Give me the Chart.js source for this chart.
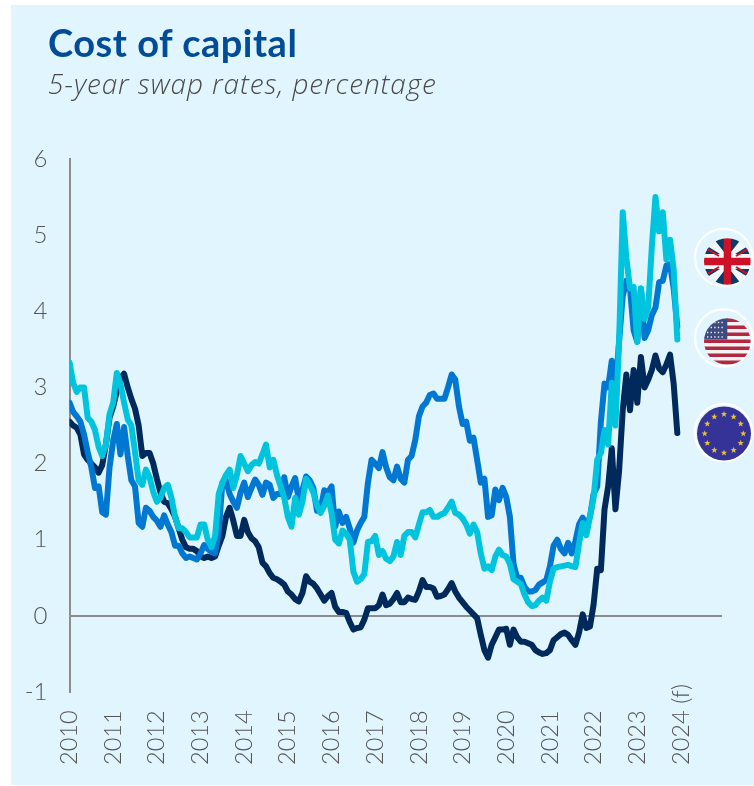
<!DOCTYPE html>
<html><head><meta charset="utf-8">
<style>
html,body{margin:0;padding:0;background:#fff;overflow:hidden}
#wrap{position:relative;width:754px;height:786px;background:#fff;overflow:hidden}
#panel{position:absolute;left:11px;top:5px;width:743px;height:780px;background:#E1F5FE}
#c{position:absolute;left:0;top:0}
#t{position:absolute;left:48px;top:19px;font:700 38px Lato,sans-serif;color:#004C99;letter-spacing:.5px}
#s{position:absolute;left:48px;top:64px;font:italic 300 28px "Open Sans",sans-serif;color:#4a4a4a;letter-spacing:.9px}
svg{position:absolute;left:0;top:0}
</style></head><body>
<div id="wrap"><div id="panel"></div>
<canvas id="c" width="754" height="786"></canvas>
<div id="t">Cost of capital</div>
<div id="s">5-year swap rates, percentage</div>
<svg width="754" height="786" viewBox="0 0 754 786">
<defs>
<clipPath id="ukc"><circle cx="727.3" cy="261.5" r="23.3"/></clipPath>
<clipPath id="usc"><circle cx="727.3" cy="341.5" r="23.3"/></clipPath>
</defs>
<circle cx="723.7" cy="257.5" r="28.7" fill="none" stroke="#fff" stroke-width="2.2"/>
<circle cx="723.7" cy="338" r="28.7" fill="none" stroke="#fff" stroke-width="2.2"/>
<circle cx="723.5" cy="432.5" r="28.7" fill="none" stroke="#fff" stroke-width="2.2"/>
<g clip-path="url(#ukc)">
<rect x="700" y="235" width="55" height="55" fill="#F2F7FA"/>
<path d="M713 238 L724 238 L724 252 Z M731 238 L742 238 L731 252 Z M704 244 L720 254 L704 254 Z M751 244 L735 254 L751 254 Z M704 269 L720 269 L704 279 Z M751 269 L735 269 L751 279 Z M724 271 L724 285 L713 285 Z M731 271 L742 285 L731 285 Z" fill="#0B3A66"/>
<path d="M704 247 L719 256 M751 247 L736 256 M704 276 L719 267 M751 276 L736 267" stroke="#CE1126" stroke-width="2"/>
<rect x="723.7" y="238" width="7.4" height="47" fill="#CE1126"/>
<rect x="704" y="257.8" width="47" height="7.4" fill="#CE1126"/>
</g>
<g clip-path="url(#usc)">
<rect x="700" y="315" width="55" height="55" fill="#F5F3F4"/>
<path d="M727 318h25v4H727zM727 325.5h25v3.6H727zM727 332.5h25v3.6H727zM700 339.5h55v3.6H700zM700 346.5h55v3.6H700zM700 353.5h55v3.6H700zM700 360.5h55v4H700z" fill="#B2283F"/>
<rect x="700" y="315" width="27.3" height="24.5" fill="#3E4A80"/>
<path d="M707 322.5h18M707 327.5h18M707 332.5h18M707 337h18" stroke="#E8E8F2" stroke-width="1.4" stroke-dasharray="1.4 2.2"/>
</g>
<circle cx="724" cy="433.5" r="27" fill="#353397"/>
<g id="stars" fill="#E8C32F"></g>
</svg>
</div>
<script src="https://cdn.jsdelivr.net/npm/chart.js@4"></script>
<script>
const xTickLabels = ['2010','2011','2012','2013','2014','2015','2016','2017','2018','2019','2020','2021','2022','2023','2024 (f)'];
const yearList = [2010,2011,2012,2013,2014,2015,2016,2017,2018,2019,2020,2021,2022,2023];
const monthOffsets = [0,1/12,2/12,3/12,4/12,5/12,6/12,7/12,8/12,9/12,10/12,11/12];

const eurSwap = [
2.55,2.5,2.47,2.38,2.12,2.05,2.0,1.95,1.88,1.98,2.25,2.6,
2.75,2.95,3.12,3.18,3.0,2.85,2.72,2.5,2.1,2.14,2.14,2.0,
1.8,1.62,1.5,1.48,1.4,1.3,1.15,1.0,0.9,0.88,0.88,0.85,
0.78,0.76,0.78,0.76,0.78,0.92,1.05,1.3,1.42,1.25,1.05,1.05,
1.26,1.1,1.02,0.98,0.9,0.7,0.65,0.56,0.5,0.48,0.45,0.41,
0.32,0.28,0.22,0.19,0.3,0.52,0.45,0.42,0.36,0.28,0.2,0.26,
0.3,0.12,0.05,0.05,0.04,-0.08,-0.18,-0.16,-0.15,-0.05,0.1,0.1,
0.1,0.14,0.28,0.14,0.16,0.22,0.3,0.18,0.18,0.24,0.22,0.21,
0.32,0.47,0.38,0.38,0.36,0.25,0.26,0.28,0.35,0.43,0.32,0.24,
0.18,0.12,0.07,0.02,-0.03,-0.25,-0.45,-0.55,-0.38,-0.28,-0.18,-0.18,
-0.17,-0.38,-0.18,-0.28,-0.34,-0.34,-0.36,-0.38,-0.45,-0.48,-0.5,-0.49,
-0.45,-0.32,-0.28,-0.24,-0.22,-0.25,-0.32,-0.38,-0.22,0.02,-0.16,-0.14,
0.15,0.62,0.6,1.4,1.7,2.2,1.4,1.9,2.7,3.17,2.7,3.23,
2.8,3.4,3.0,3.1,3.23,3.42,3.25,3.2,3.3,3.43,3.05,2.4];

const usSwap = [
2.8,2.68,2.62,2.55,2.38,2.15,1.95,1.68,1.7,1.36,1.33,1.95,
2.3,2.52,2.12,2.48,2.1,1.78,1.7,1.22,1.17,1.42,1.38,1.3,
1.25,1.17,1.32,1.2,1.1,0.92,0.92,0.82,0.76,0.78,0.76,0.74,
0.82,0.93,0.88,0.84,0.82,1.1,1.75,1.78,1.6,1.5,1.42,1.62,
1.75,1.56,1.68,1.79,1.72,1.59,1.75,1.72,1.55,1.6,1.6,1.82,
1.56,1.7,1.81,1.52,1.65,1.83,1.78,1.68,1.38,1.4,1.65,1.62,
1.7,1.17,1.37,1.22,1.3,1.15,0.96,1.12,1.22,1.3,1.75,2.05,
2.0,1.94,2.15,1.95,1.82,1.78,1.96,1.8,1.75,2.05,2.1,2.31,
2.62,2.75,2.8,2.9,2.92,2.85,2.85,2.85,3.0,3.17,3.1,2.75,
2.52,2.55,2.3,2.34,2.05,1.75,1.8,1.3,1.32,1.66,1.52,1.68,
1.56,1.3,0.68,0.5,0.5,0.38,0.32,0.32,0.34,0.41,0.44,0.47,
0.65,0.92,1.0,0.88,0.82,0.96,0.82,0.98,1.2,1.29,1.17,1.3,
1.6,1.7,2.55,3.05,3.0,3.35,3.0,3.6,4.2,4.4,4.3,3.75,
3.6,4.3,3.65,3.75,3.95,4.05,4.38,4.4,4.6,4.62,4.3,3.8];

const ukSwap = [
3.33,3.06,2.94,3.0,3.0,2.6,2.55,2.44,2.22,2.1,2.25,2.65,
2.8,3.19,3.05,2.8,2.58,2.5,2.15,1.78,1.72,1.92,1.82,1.63,
1.5,1.55,1.68,1.72,1.55,1.3,1.15,1.15,1.1,1.03,1.03,1.03,
1.2,1.2,1.0,0.9,1.05,1.6,1.75,1.85,1.92,1.68,1.85,2.1,
2.0,1.9,1.98,2.02,2.0,2.12,2.25,1.95,2.05,1.85,1.7,1.55,
1.3,1.17,1.55,1.33,1.5,1.8,1.72,1.62,1.45,1.35,1.45,1.58,
1.35,1.0,0.95,1.12,1.08,1.0,0.58,0.45,0.48,0.55,0.97,0.98,
1.05,0.8,0.85,0.75,0.72,0.78,0.97,0.8,1.05,1.1,1.1,1.03,
1.2,1.36,1.36,1.39,1.3,1.3,1.33,1.35,1.42,1.5,1.35,1.33,
1.28,1.2,1.08,1.2,1.1,0.82,0.62,0.65,0.6,0.78,0.87,0.8,
0.78,0.68,0.48,0.45,0.42,0.28,0.18,0.13,0.14,0.2,0.24,0.2,
0.45,0.62,0.64,0.65,0.66,0.67,0.65,0.64,0.95,1.22,1.06,1.3,
1.55,2.05,2.14,2.44,2.25,3.06,2.5,3.6,5.3,4.7,4.3,4.32,
3.6,4.3,3.9,4.05,4.85,5.5,5.05,5.3,4.68,4.94,4.55,3.63];

const dates = yearList.flatMap(y => monthOffsets.map(m => y + m));
const pts = vals => vals.map((v,i) => ({x: dates[i], y: v}));

// EU flag stars
(function(){
  const g=document.getElementById('stars');let h='';
  for(let k=0;k<12;k++){const a=k*Math.PI/6,cx=724+19.3*Math.sin(a),cy=433.5-19.3*Math.cos(a);
    let p=[];for(let j=0;j<10;j++){const r=j%2?1.4:3.3,b=j*Math.PI/5;p.push((cx+r*Math.sin(b)).toFixed(1)+','+(cy-r*Math.cos(b)).toFixed(1));}
    h+='<polygon points="'+p.join(' ')+'"/>';}
  g.innerHTML=h;
})();

const FONT = '"Lato", sans-serif';
const xLabelsPlugin = {
  id:'xLabels',
  afterDraw(chart){
    const s=chart.scales.x, ctx=chart.ctx;
    ctx.save();
    ctx.font='300 23.6px '+FONT; ctx.fillStyle='#555'; ctx.textAlign='left'; ctx.textBaseline='middle';
    s.ticks.forEach((t,i)=>{
      ctx.save();
      ctx.translate(s.getPixelForValue(t.value), 765);
      ctx.rotate(-Math.PI/2);
      ctx.fillText(xTickLabels[i],0,0);
      ctx.restore();
    });
    ctx.restore();
  }
};
const line=(label,vals,color,order)=>({label,data:pts(vals),borderColor:color,backgroundColor:color,borderWidth:6,pointRadius:0,tension:0,borderJoinStyle:'round',borderCapStyle:'round',order});
new Chart(document.getElementById('c'),{
  type:'line',
  data:{datasets:[
    line('UK',ukSwap,'#00C4DE',0),
    line('US',usSwap,'#0077D1',1),
    line('Eurozone',eurSwap,'#002A5C',2)
  ]},
  options:{
    responsive:false,animation:false,
    layout:{padding:{top:159,right:32,left:0,bottom:0}},
    plugins:{legend:{display:false},tooltip:{enabled:false},title:{display:false}},
    scales:{
      x:{type:'linear',min:2010,max:2024.94,
        afterFit(s){s.height=94;},
        afterBuildTicks(s){s.ticks=xTickLabels.map((l,i)=>({value:2010+i}));},
        grid:{display:false},border:{display:false},
        ticks:{display:false,callback:(v)=>xTickLabels[v-2010]}},
      y:{min:-1,max:6,
        afterFit(s){s.width=69.5;},
        grid:{drawTicks:false,lineWidth:2,color:c=>c.tick&&c.tick.value===0?'#8c8c8c':'rgba(0,0,0,0)'},
        border:{display:true,color:'#8c8c8c',width:2},
        ticks:{stepSize:1,padding:22,color:'#555',font:{family:FONT,size:24,weight:300},callback:v=>String(v)}}
    }
  },
  plugins:[xLabelsPlugin]
});
</script>
</body></html>
